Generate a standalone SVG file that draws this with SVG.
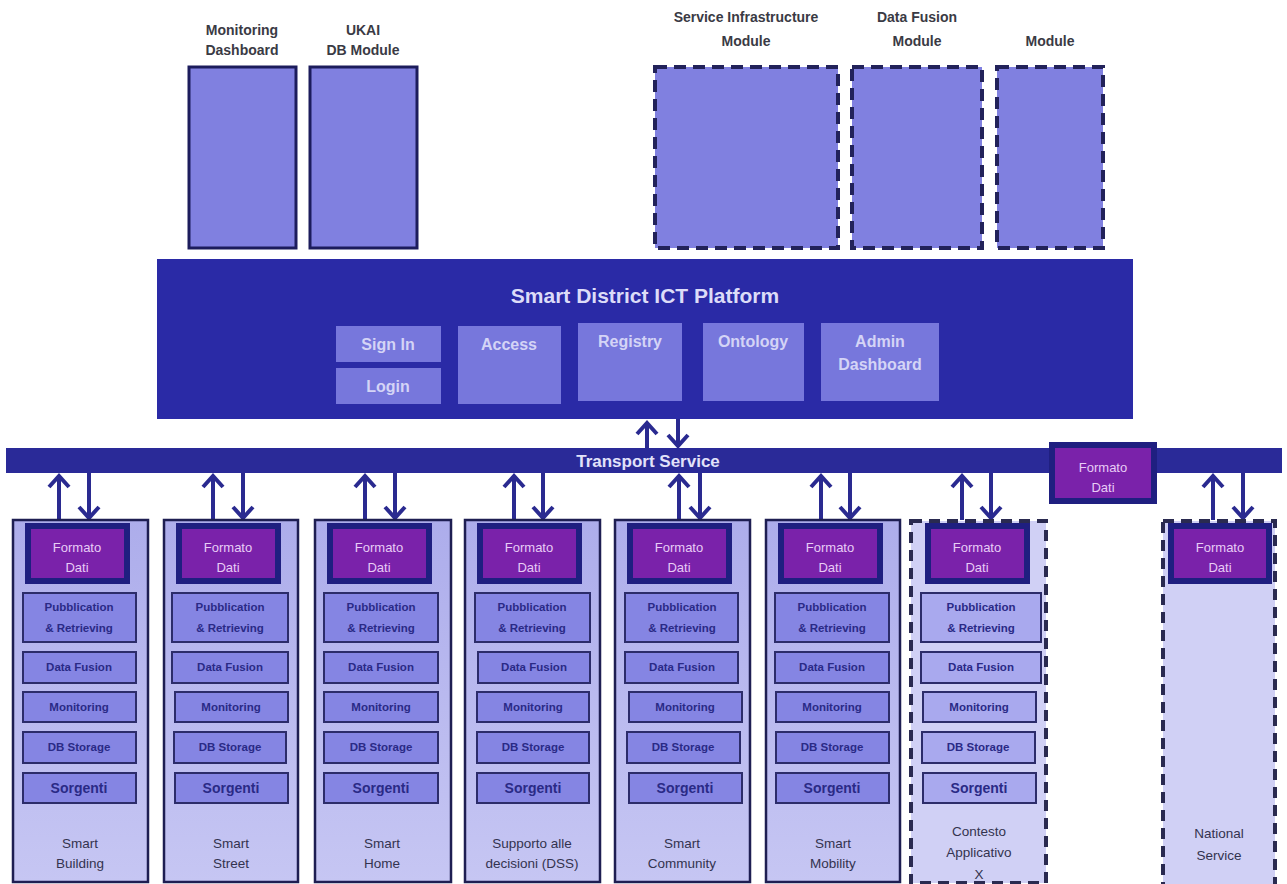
<svg xmlns="http://www.w3.org/2000/svg" width="1287" height="884" viewBox="0 0 1287 884">
<defs>
<linearGradient id="colg" x1="0" y1="0" x2="0" y2="1">
<stop offset="0" stop-color="#adadeb"/>
<stop offset="1" stop-color="#c6c6f3"/>
</linearGradient>
<marker id="ah" markerUnits="userSpaceOnUse" markerWidth="30" markerHeight="30" refX="0" refY="0" orient="auto" overflow="visible">
<path d="M -11 -10 L 0 0 L -11 10" fill="none" stroke="#2a2a90" stroke-width="4" stroke-linejoin="miter"/>
</marker>
<style>
text{font-family:"Liberation Sans Narrow","Liberation Sans",Arial,sans-serif;text-anchor:middle;font-weight:bold}
.lbl{font-size:14px;fill:#3a3a44}
.mod{fill:#8080e0;stroke:#1c1c5c;stroke-width:3}
.modd{fill:#8080e0;stroke:#22225a;stroke-width:4;stroke-dasharray:12 7}
.plat{fill:#2a2aa6}
.ptitle{font-size:21px;fill:#dcdcf8}
.pbox{fill:#7777dc}
.ptxt{font-size:16px;fill:#d4d4f6}
.bar{fill:#2a2a98}
.btxt{font-size:17px;fill:#e2e2fa}
.col{fill:url(#colg);stroke:#1e1e52;stroke-width:2.5}
.cold{fill:#d0d0f5;stroke:#2a2a50;stroke-width:4;stroke-dasharray:11 7}
.fo{fill:#7a22aa;stroke:#1f1f80;stroke-width:6}
.fotxt{font-size:13px;fill:#e8ccf6;font-weight:normal}
.sb{fill:#8585e3;stroke:#2c2c6a;stroke-width:2}
.sbl{fill:#a9a9ee;stroke:#2c2c6a;stroke-width:2}
.sbt{font-size:11.5px;fill:#2a2a86}
.sgt{font-size:14px;fill:#2a2a86}
.clbl{font-size:13.5px;fill:#33334f;font-weight:normal}
.arr{stroke:#2a2a90;stroke-width:4;fill:none;marker-end:url(#ah)}
</style>
</defs>

<rect x="0" y="0" width="1287" height="884" fill="#ffffff"/>

<!-- Top modules -->
<g id="monitoring-dashboard">
<text class="lbl" x="242" y="35">Monitoring</text>
<text class="lbl" x="242" y="55">Dashboard</text>
<rect class="mod" x="189" y="67" width="107" height="181"/>
</g>
<g id="ukai-db-module">
<text class="lbl" x="363" y="35">UKAI</text>
<text class="lbl" x="363" y="55">DB Module</text>
<rect class="mod" x="310" y="67" width="107" height="181"/>
</g>
<g id="service-infrastructure-module">
<text class="lbl" x="746" y="22">Service Infrastructure</text>
<text class="lbl" x="746" y="46">Module</text>
<rect class="modd" x="655" y="67" width="183" height="181"/>
</g>
<g id="data-fusion-module">
<text class="lbl" x="917" y="22">Data Fusion</text>
<text class="lbl" x="917" y="46">Module</text>
<rect class="modd" x="852" y="67" width="130" height="181"/>
</g>
<g id="module">
<text class="lbl" x="1050" y="46">Module</text>
<rect class="modd" x="997" y="67" width="106" height="181"/>
</g>

<!-- Platform -->
<g id="platform">
<rect class="plat" x="157" y="259" width="976" height="160"/>
<text class="ptitle" x="645" y="303">Smart District ICT Platform</text>
<g id="sign-in"><rect class="pbox" x="336" y="326" width="105" height="36"/><text class="ptxt" x="388" y="350">Sign In</text></g>
<g id="login"><rect class="pbox" x="336" y="368" width="105" height="36"/><text class="ptxt" x="388" y="392">Login</text></g>
<g id="access"><rect class="pbox" x="458" y="326" width="103" height="78"/><text class="ptxt" x="509" y="350">Access</text></g>
<g id="registry"><rect class="pbox" x="578" y="323" width="104" height="78"/><text class="ptxt" x="630" y="347">Registry</text></g>
<g id="ontology"><rect class="pbox" x="703" y="323" width="101" height="78"/><text class="ptxt" x="753" y="347">Ontology</text></g>
<g id="admin-dashboard"><rect class="pbox" x="821" y="323" width="118" height="78"/><text class="ptxt" x="880" y="347">Admin</text><text class="ptxt" x="880" y="370">Dashboard</text></g>
</g>

<!-- Transport bar -->
<g id="transport-service">
<rect class="bar" x="6" y="448" width="1276" height="25"/>
<text class="btxt" x="648" y="467">Transport Service</text>
</g>
<g id="formato-dati-transport">
<rect class="fo" x="1052" y="445" width="102" height="56" stroke-width="8"/>
<text class="fotxt" x="1103" y="472">Formato</text>
<text class="fotxt" x="1103" y="492">Dati</text>
</g>

<!-- Connectors -->
<g id="connectors">
<line class="arr" x1="647" y1="448" x2="647" y2="423"/>
<line class="arr" x1="678" y1="419" x2="678" y2="446"/>
<line class="arr" x1="59" y1="520" x2="59" y2="476"/>
<line class="arr" x1="89" y1="473" x2="89" y2="518"/>
<line class="arr" x1="213" y1="520" x2="213" y2="476"/>
<line class="arr" x1="243" y1="473" x2="243" y2="518"/>
<line class="arr" x1="365" y1="520" x2="365" y2="476"/>
<line class="arr" x1="395" y1="473" x2="395" y2="518"/>
<line class="arr" x1="514" y1="520" x2="514" y2="476"/>
<line class="arr" x1="543" y1="473" x2="543" y2="518"/>
<line class="arr" x1="679" y1="520" x2="679" y2="476"/>
<line class="arr" x1="700" y1="473" x2="700" y2="518"/>
<line class="arr" x1="821" y1="520" x2="821" y2="476"/>
<line class="arr" x1="850" y1="473" x2="850" y2="518"/>
<line class="arr" x1="962" y1="520" x2="962" y2="476"/>
<line class="arr" x1="991" y1="473" x2="991" y2="518"/>
<line class="arr" x1="1213" y1="520" x2="1213" y2="476"/>
<line class="arr" x1="1243" y1="473" x2="1243" y2="518"/>
</g>

<g id="col-smart-building">
<rect class="col" x="13" y="520" width="135" height="362"/>
<rect class="fo" x="28" y="526" width="99" height="55"/>
<text class="fotxt" x="77" y="552">Formato</text><text class="fotxt" x="77" y="572">Dati</text>
<rect class="sb" x="23" y="593" width="113" height="49"/><text class="sbt" x="79" y="611">Pubblication</text><text class="sbt" x="79" y="632">&amp; Retrieving</text>
<rect class="sb" x="23" y="652" width="113" height="31"/><text class="sbt" x="79" y="671">Data Fusion</text>
<rect class="sb" x="23" y="692" width="113" height="30"/><text class="sbt" x="79" y="711">Monitoring</text>
<rect class="sb" x="23" y="732" width="113" height="31"/><text class="sbt" x="79" y="751">DB Storage</text>
<rect class="sb" x="23" y="773" width="113" height="30"/><text class="sgt" x="79" y="793">Sorgenti</text>
<text class="clbl" x="80" y="848">Smart</text><text class="clbl" x="80" y="868">Building</text>
</g>

<g id="col-smart-street">
<rect class="col" x="164" y="520" width="134" height="362"/>
<rect class="fo" x="179" y="526" width="99" height="55"/>
<text class="fotxt" x="228" y="552">Formato</text><text class="fotxt" x="228" y="572">Dati</text>
<rect class="sb" x="172" y="593" width="116" height="49"/><text class="sbt" x="230" y="611">Pubblication</text><text class="sbt" x="230" y="632">&amp; Retrieving</text>
<rect class="sb" x="172" y="652" width="116" height="31"/><text class="sbt" x="230" y="671">Data Fusion</text>
<rect class="sb" x="175" y="692" width="113" height="30"/><text class="sbt" x="231" y="711">Monitoring</text>
<rect class="sb" x="174" y="732" width="112" height="31"/><text class="sbt" x="230" y="751">DB Storage</text>
<rect class="sb" x="175" y="773" width="113" height="30"/><text class="sgt" x="231" y="793">Sorgenti</text>
<text class="clbl" x="231" y="848">Smart</text><text class="clbl" x="231" y="868">Street</text>
</g>

<g id="col-smart-home">
<rect class="col" x="315" y="520" width="136" height="362"/>
<rect class="fo" x="330" y="526" width="99" height="55"/>
<text class="fotxt" x="379" y="552">Formato</text><text class="fotxt" x="379" y="572">Dati</text>
<rect class="sb" x="324" y="593" width="114" height="49"/><text class="sbt" x="381" y="611">Pubblication</text><text class="sbt" x="381" y="632">&amp; Retrieving</text>
<rect class="sb" x="324" y="652" width="114" height="31"/><text class="sbt" x="381" y="671">Data Fusion</text>
<rect class="sb" x="324" y="692" width="114" height="30"/><text class="sbt" x="381" y="711">Monitoring</text>
<rect class="sb" x="324" y="732" width="114" height="31"/><text class="sbt" x="381" y="751">DB Storage</text>
<rect class="sb" x="324" y="773" width="114" height="30"/><text class="sgt" x="381" y="793">Sorgenti</text>
<text class="clbl" x="382" y="848">Smart</text><text class="clbl" x="382" y="868">Home</text>
</g>

<g id="col-dss">
<rect class="col" x="465" y="520" width="135" height="362"/>
<rect class="fo" x="480" y="526" width="99" height="55"/>
<text class="fotxt" x="529" y="552">Formato</text><text class="fotxt" x="529" y="572">Dati</text>
<rect class="sb" x="475" y="593" width="115" height="49"/><text class="sbt" x="532" y="611">Pubblication</text><text class="sbt" x="532" y="632">&amp; Retrieving</text>
<rect class="sb" x="478" y="652" width="112" height="31"/><text class="sbt" x="534" y="671">Data Fusion</text>
<rect class="sb" x="477" y="692" width="112" height="30"/><text class="sbt" x="533" y="711">Monitoring</text>
<rect class="sb" x="477" y="732" width="112" height="31"/><text class="sbt" x="533" y="751">DB Storage</text>
<rect class="sb" x="477" y="773" width="112" height="30"/><text class="sgt" x="533" y="793">Sorgenti</text>
<text class="clbl" x="532" y="848">Supporto alle</text><text class="clbl" x="532" y="868">decisioni (DSS)</text>
</g>

<g id="col-smart-community">
<rect class="col" x="615" y="520" width="135" height="362"/>
<rect class="fo" x="630" y="526" width="99" height="55"/>
<text class="fotxt" x="679" y="552">Formato</text><text class="fotxt" x="679" y="572">Dati</text>
<rect class="sb" x="625" y="593" width="113" height="49"/><text class="sbt" x="682" y="611">Pubblication</text><text class="sbt" x="682" y="632">&amp; Retrieving</text>
<rect class="sb" x="625" y="652" width="113" height="31"/><text class="sbt" x="682" y="671">Data Fusion</text>
<rect class="sb" x="629" y="692" width="113" height="30"/><text class="sbt" x="685" y="711">Monitoring</text>
<rect class="sb" x="627" y="732" width="113" height="31"/><text class="sbt" x="683" y="751">DB Storage</text>
<rect class="sb" x="629" y="773" width="113" height="30"/><text class="sgt" x="685" y="793">Sorgenti</text>
<text class="clbl" x="682" y="848">Smart</text><text class="clbl" x="682" y="868">Community</text>
</g>

<g id="col-smart-mobility">
<rect class="col" x="766" y="520" width="134" height="362"/>
<rect class="fo" x="781" y="526" width="99" height="55"/>
<text class="fotxt" x="830" y="552">Formato</text><text class="fotxt" x="830" y="572">Dati</text>
<rect class="sb" x="775" y="593" width="114" height="49"/><text class="sbt" x="832" y="611">Pubblication</text><text class="sbt" x="832" y="632">&amp; Retrieving</text>
<rect class="sb" x="775" y="652" width="114" height="31"/><text class="sbt" x="832" y="671">Data Fusion</text>
<rect class="sb" x="776" y="692" width="113" height="30"/><text class="sbt" x="832" y="711">Monitoring</text>
<rect class="sb" x="776" y="732" width="113" height="31"/><text class="sbt" x="832" y="751">DB Storage</text>
<rect class="sb" x="776" y="773" width="113" height="30"/><text class="sgt" x="832" y="793">Sorgenti</text>
<text class="clbl" x="833" y="848">Smart</text><text class="clbl" x="833" y="868">Mobility</text>
</g>

<g id="col-contesto-applicativo">
<rect class="cold" x="911" y="521" width="135" height="362"/>
<rect class="fo" x="928" y="526" width="99" height="55"/>
<text class="fotxt" x="977" y="552">Formato</text><text class="fotxt" x="977" y="572">Dati</text>
<rect class="sbl" x="921" y="593" width="120" height="49"/><text class="sbt" x="981" y="611">Pubblication</text><text class="sbt" x="981" y="632">&amp; Retrieving</text>
<rect class="sbl" x="921" y="652" width="120" height="31"/><text class="sbt" x="981" y="671">Data Fusion</text>
<rect class="sbl" x="923" y="692" width="113" height="30"/><text class="sbt" x="979" y="711">Monitoring</text>
<rect class="sbl" x="922" y="732" width="113" height="31"/><text class="sbt" x="978" y="751">DB Storage</text>
<rect class="sbl" x="923" y="773" width="113" height="30"/><text class="sgt" x="979" y="793">Sorgenti</text>
<text class="clbl" x="979" y="836">Contesto</text><text class="clbl" x="979" y="857">Applicativo</text><text class="clbl" x="979" y="879">X</text>
</g>

<g id="col-national-service">
<rect class="cold" x="1163" y="521" width="112" height="380"/>
<rect class="fo" x="1171" y="526" width="98" height="55"/>
<text class="fotxt" x="1220" y="552">Formato</text><text class="fotxt" x="1220" y="572">Dati</text>
<text class="clbl" x="1219" y="838">National</text><text class="clbl" x="1219" y="860">Service</text>
</g>
</svg>
